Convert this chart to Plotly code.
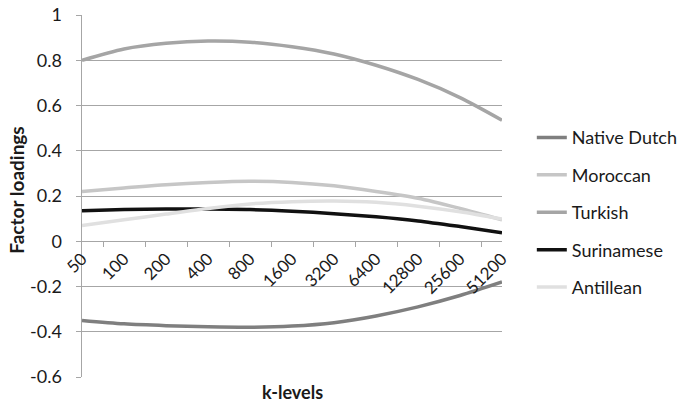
import plotly.graph_objects as go

k_levels = ["50", "100", "200", "400", "800", "1600", "3200", "6400", "12800", "25600", "51200"]
native_dutch = [-0.350, -0.365, -0.373, -0.378, -0.380, -0.375, -0.360, -0.330, -0.290, -0.240, -0.180]
moroccan = [0.220, 0.235, 0.250, 0.260, 0.265, 0.260, 0.245, 0.220, 0.190, 0.145, 0.095]
turkish = [0.800, 0.850, 0.875, 0.885, 0.880, 0.860, 0.828, 0.778, 0.715, 0.635, 0.535]
surinamese = [0.135, 0.140, 0.142, 0.142, 0.140, 0.133, 0.122, 0.108, 0.090, 0.065, 0.038]
antillean = [0.070, 0.095, 0.120, 0.145, 0.165, 0.175, 0.178, 0.172, 0.155, 0.130, 0.098]

series = [
    ("Native Dutch", native_dutch, "#7f7f7f"),
    ("Moroccan", moroccan, "#c6c6c6"),
    ("Turkish", turkish, "#a5a5a5"),
    ("Surinamese", surinamese, "#111111"),
    ("Antillean", antillean, "#e0e0e0"),
]

y_ticks = [1, 0.8, 0.6, 0.4, 0.2, 0, -0.2, -0.4, -0.6]
y_tick_text = ["1", "0.8", "0.6", "0.4", "0.2", "0", "-0.2", "-0.4", "-0.6"]

FONT = "Lato, 'Open Sans', sans-serif"
TXT = "#1a1a1a"
PAD = "<span style='color:white'>0</span>"

fig = go.Figure()
for name, vals, color in series:
    fig.add_trace(go.Scatter(
        x=k_levels, y=vals, name=name, mode="lines",
        line=dict(color=color, width=3.5, shape="spline", smoothing=0.8),
        legendgroup=name,
    ))

fig.update_layout(
    width=684, height=403,
    margin=dict(l=82, r=182, t=15, b=26, autoexpand=False),
    paper_bgcolor="white", plot_bgcolor="white",
    font=dict(family=FONT, size=17, color=TXT),
    showlegend=True,
    legend=dict(
        x=1.071, y=0.712, xanchor="left", yanchor="top",
        traceorder="grouped", tracegroupgap=11,
        font=dict(family=FONT, size=18, color=TXT),
        bgcolor="rgba(0,0,0,0)",
    ),
    xaxis=dict(
        type="category", automargin=False,
        anchor="free", position=0.375,
        showline=True, linecolor="#a6a6a6", linewidth=1,
        ticks="outside", ticklen=5, tickcolor="#a6a6a6", tickson="boundaries",
        tickangle=-45, showgrid=False, zeroline=False,
        tickfont=dict(family=FONT, size=17, color=TXT),
    ),
    yaxis=dict(
        range=[-0.6, 1], tickvals=y_ticks, ticktext=[t + PAD for t in y_tick_text],
        automargin=False,
        showgrid=True, gridcolor="#a6a6a6", gridwidth=1,
        showline=True, linecolor="#a6a6a6", linewidth=1,
        ticks="outside", ticklen=5, tickcolor="#a6a6a6",
        ticklabeloverflow="allow",
        zeroline=False,
        tickfont=dict(family=FONT, size=18, color=TXT),
    ),
    annotations=[
        dict(
            text="<b>k-levels</b>", x=0.5, y=0, xref="paper", yref="paper",
            xanchor="center", yanchor="top", yshift=-2, showarrow=False,
            font=dict(family=FONT, size=18, color=TXT),
        ),
        dict(
            text="<b>Factor loadings</b>", x=-0.155, y=0.517, xref="paper", yref="paper",
            xanchor="center", yanchor="middle", textangle=-90, showarrow=False,
            font=dict(family=FONT, size=19, color=TXT),
        ),
    ],
)

fig.write_html(
    "out.html",
    config={"displayModeBar": False},
    post_script="document.body.style.margin='0';document.body.style.overflow='hidden';",
)
